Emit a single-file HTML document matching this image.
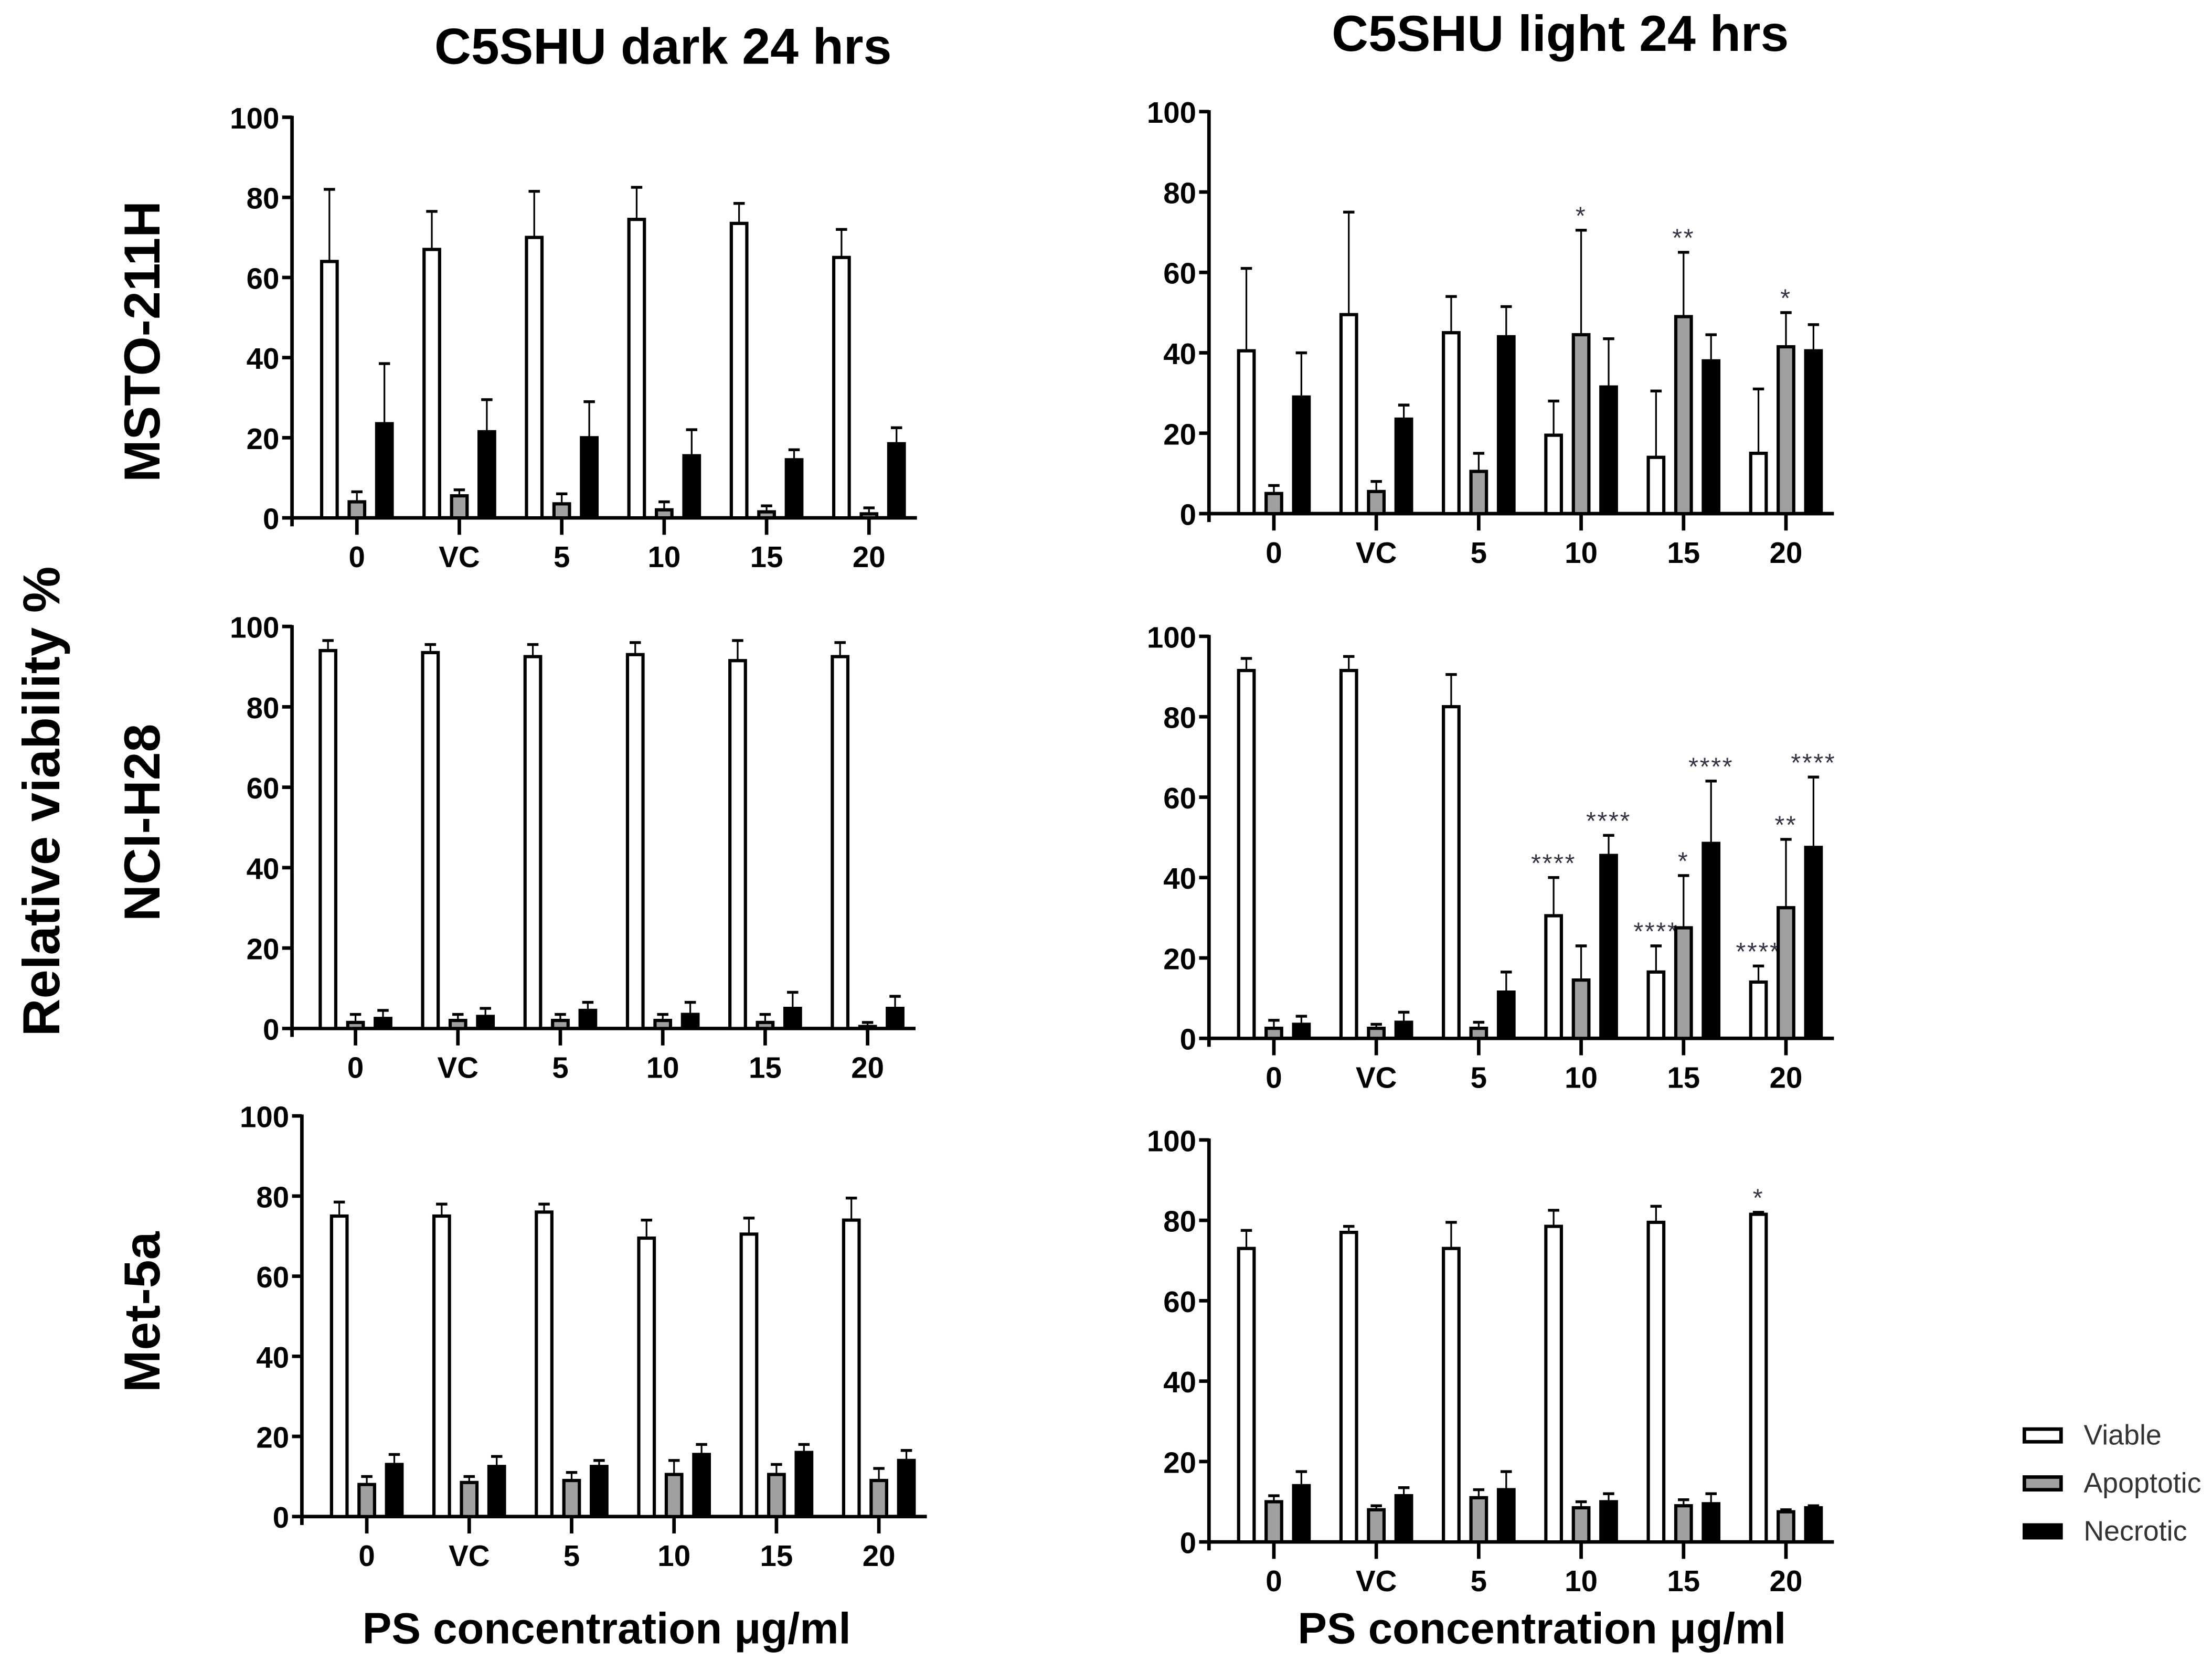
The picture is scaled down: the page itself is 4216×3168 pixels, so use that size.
<!DOCTYPE html>
<html><head><meta charset="utf-8"><style>
html,body{margin:0;padding:0;background:#fff}
svg{display:block}
text{font-family:"Liberation Sans",Arial,sans-serif}
</style></head><body>
<svg id="fig" width="4216" height="3168" viewBox="0 0 1568 1178" xmlns="http://www.w3.org/2000/svg">
<g id="static">
<text x="470" y="45" font-size="36" font-weight="bold" text-anchor="middle">C5SHU dark 24 hrs</text>
<text x="1106" y="36" font-size="36" font-weight="bold" text-anchor="middle">C5SHU light 24 hrs</text>
<text transform="translate(113,242) rotate(-90)" font-size="36" font-weight="bold" text-anchor="middle">MSTO-211H</text>
<text transform="translate(113,583) rotate(-90)" font-size="36" font-weight="bold" text-anchor="middle">NCI-H28</text>
<text transform="translate(113,930) rotate(-90)" font-size="36" font-weight="bold" text-anchor="middle">Met-5a</text>
<text transform="translate(42,568) rotate(-90)" font-size="37" font-weight="bold" text-anchor="middle">Relative viability %</text>
<text x="430" y="1165" font-size="31" font-weight="bold" text-anchor="middle">PS concentration μg/ml</text>
<text x="1093" y="1165" font-size="31" font-weight="bold" text-anchor="middle">PS concentration μg/ml</text>
<g>
<g><rect x="1435" y="1013" width="26" height="9" fill="#fff" stroke="#000" stroke-width="2.5"/><text x="1477" y="1024" font-size="20" fill="#333">Viable</text></g>
<g><rect x="1435" y="1047" width="26" height="9" fill="#a0a0a0" stroke="#000" stroke-width="2.5"/><text x="1477" y="1058" font-size="20" fill="#333">Apoptotic</text></g>
<g><rect x="1435" y="1081" width="26" height="9" fill="#000" stroke="#000" stroke-width="2.5"/><text x="1477" y="1092" font-size="20" fill="#333">Necrotic</text></g>
</g>
</g>
</svg>
<script>
const categories = ["0","VC","5","10","15","20"];
const yTicks = [0,20,40,60,80,100];
// MSTO dark
const mdViable=[64,67,70,74.5,73.5,65], mdViableErr=[82,76.5,81.5,82.5,78.5,72];
const mdApop=[4,5.5,3.5,2,1.5,1], mdApopErr=[6.5,7,6,4,3,2.5];
const mdNecr=[23.5,21.5,20,15.5,14.5,18.5], mdNecrErr=[38.5,29.5,29,22,17,22.5];
// MSTO light
const mlViable=[40.5,49.5,45,19.5,14,15], mlViableErr=[61,75,54,28,30.5,31];
const mlApop=[5,5.5,10.5,44.5,49,41.5], mlApopErr=[7,8,15,70.5,65,50];
const mlNecr=[29,23.5,44,31.5,38,40.5], mlNecrErr=[40,27,51.5,43.5,44.5,47];
const mlViableStars=["","","","","",""], mlApopStars=["","","","*","**","*"], mlNecrStars=["","","","","",""];
// NCI dark
const ndViable=[94,93.5,92.5,93,91.5,92.5], ndViableErr=[96.5,95.5,95.5,96,96.5,96];
const ndApop=[1.5,2,2,2,1.5,0.5], ndApopErr=[3.5,3.5,3.5,3.5,3.5,1.5];
const ndNecr=[2.5,3,4.5,3.5,5,5], ndNecrErr=[4.5,5,6.5,6.5,9,8];
// NCI light
const nlViable=[91.5,91.5,82.5,30.5,16.5,14], nlViableErr=[94.5,95,90.5,40,23,18];
const nlApop=[2.5,2.5,2.5,14.5,27.5,32.5], nlApopErr=[4.5,3.5,4,23,40.5,49.5];
const nlNecr=[3.5,4,11.5,45.5,48.5,47.5], nlNecrErr=[5.5,6.5,16.5,50.5,64,65];
const nlViableStars=["","","","****","****","****"], nlApopStars=["","","","","*","**"], nlNecrStars=["","","","****","****","****"];
// Met dark
const edViable=[75,75,76,69.5,70.5,74], edViableErr=[78.5,78,78,74,74.5,79.5];
const edApop=[8,8.5,9,10.5,10.5,9], edApopErr=[10,10,11,14,13,12];
const edNecr=[13,12.5,12.5,15.5,16,14], edNecrErr=[15.5,15,14,18,18,16.5];
// Met light
const elViable=[73,77,73,78.5,79.5,81.5], elViableErr=[77.5,78.5,79.5,82.5,83.5,82];
const elApop=[10,8,11,8.5,9,7.5], elApopErr=[11.5,9,13,10,10.5,8];
const elNecr=[14,11.5,13,10,9.5,8.5], elNecrErr=[17.5,13.5,17.5,12,12,9];
const elViableStars=["","","","","","*"];
const none=["","","","","",""];

const NS="http://www.w3.org/2000/svg";
const fig=document.getElementById('fig');
function mk(tag,attrs,parent){const e=document.createElementNS(NS,tag);for(const k in attrs)e.setAttribute(k,attrs[k]);(parent||fig).appendChild(e);return e;}

function panel(name,ax,y0,y100,cx0,series){
  const g=mk('g',{});
  
  
  const ys=v=>y0-(v/100)*(y0-y100);
  const step=72.6;
  const xs=i=>cx0+i*step;
  const ya=mk('line',{x1:ax,y1:y100-1,x2:ax,y2:y0+6,stroke:'#000','stroke-width':2.5},g);
  
  
  yTicks.forEach(t=>{
    mk('line',{x1:ax-7,y1:ys(t),x2:ax,y2:ys(t),stroke:'#000','stroke-width':2.5},g);
    const tl=mk('text',{x:ax-9,y:ys(t)+8,'font-size':21,'font-weight':'bold','text-anchor':'end'},g);
    
    
    tl.textContent=t;
  });
  const xa=mk('line',{x1:ax,y1:y0,x2:xs(5)+34,y2:y0,stroke:'#000','stroke-width':2.5},g);
  
  
  const fills=['#fff','#a0a0a0','#000'];
  const keys=['viable','apoptotic','necrotic'];
  categories.forEach((c,i)=>{
    mk('line',{x1:xs(i),y1:y0,x2:xs(i),y2:y0+12,stroke:'#000','stroke-width':2.5},g);
    const xl=mk('text',{x:xs(i),y:y0+35,'font-size':21,'font-weight':'bold','text-anchor':'middle'},g);
    
    
    xl.textContent=c;
    series.forEach((s,j)=>{
      const bx=xs(i)+(j-1)*19.5;
      const v=s.vals[i], e=s.errs[i];
      const yt=ys(v);
      mk('line',{x1:bx,y1:yt,x2:bx,y2:ys(e),stroke:'#000','stroke-width':1.2},g);
      mk('line',{x1:bx-4,y1:ys(e),x2:bx+4,y2:ys(e),stroke:'#000','stroke-width':2},g);
      const r=mk('rect',{x:bx-5.5,y:yt,width:11,height:Math.max(y0-yt,0.5),fill:fills[j],stroke:'#000','stroke-width':2.3},g);
      
      
      if(s.stars && s.stars[i]){
        const st=mk('text',{x:bx,y:ys(e)-4,'font-size':18,fill:'#334','text-anchor':'middle','letter-spacing':'1'},g);
        
        
        st.textContent=s.stars[i];
      }
    });
  });
}
panel('panel-msto-dark',207,367,83,253,[{vals:mdViable,errs:mdViableErr},{vals:mdApop,errs:mdApopErr},{vals:mdNecr,errs:mdNecrErr}]);
panel('panel-msto-light',857,364,79,903,[{vals:mlViable,errs:mlViableErr,stars:mlViableStars},{vals:mlApop,errs:mlApopErr,stars:mlApopStars},{vals:mlNecr,errs:mlNecrErr,stars:mlNecrStars}]);
panel('panel-nci-dark',207,729,444,252,[{vals:ndViable,errs:ndViableErr},{vals:ndApop,errs:ndApopErr},{vals:ndNecr,errs:ndNecrErr}]);
panel('panel-nci-light',857,736,451,903,[{vals:nlViable,errs:nlViableErr,stars:nlViableStars},{vals:nlApop,errs:nlApopErr,stars:nlApopStars},{vals:nlNecr,errs:nlNecrErr,stars:nlNecrStars}]);
panel('panel-met-dark',214,1075,791,260,[{vals:edViable,errs:edViableErr},{vals:edApop,errs:edApopErr},{vals:edNecr,errs:edNecrErr}]);
panel('panel-met-light',857,1093,808,903,[{vals:elViable,errs:elViableErr,stars:elViableStars},{vals:elApop,errs:elApopErr,stars:none},{vals:elNecr,errs:elNecrErr,stars:none}]);
</script>
</body></html>
